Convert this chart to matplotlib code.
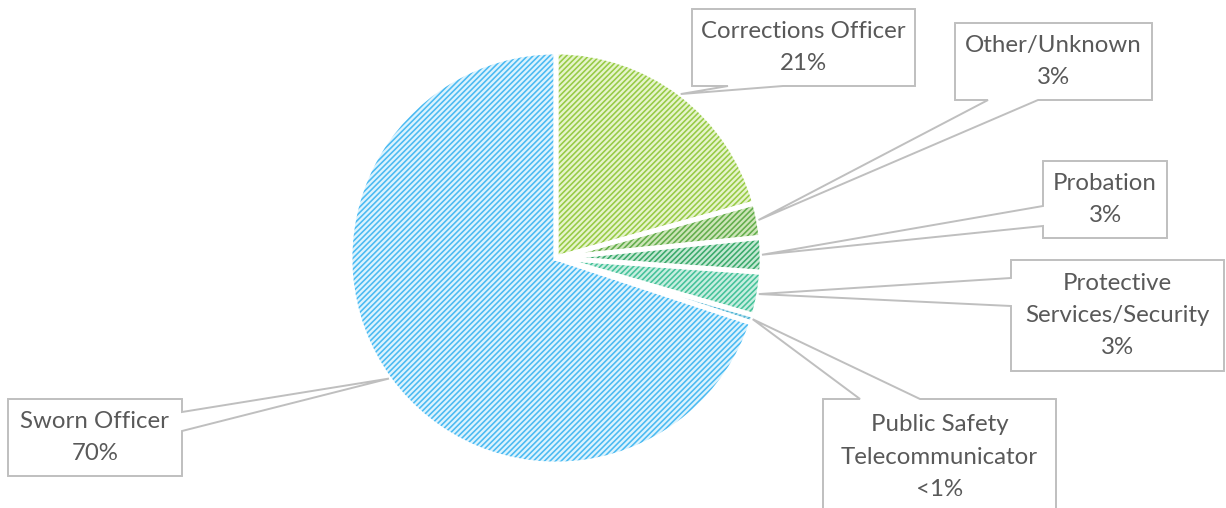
import numpy as np
import matplotlib
matplotlib.use('Agg')
import matplotlib.pyplot as plt
from matplotlib.patches import Polygon

W, H = 1226, 508

# slice data, clockwise from 12 o'clock
categories = ["Corrections Officer", "Other/Unknown", "Probation",
              "Protective\nServices/Security", "Public Safety\nTelecommunicator",
              "Sworn Officer"]
shares = [20.7, 2.7, 2.7, 3.4, 0.6, 69.9]

face_colors = ["#e6f4cc", "#cde5b8", "#c4e8d3", "#c8eee0", "#ade0ef", "#dcf3fd"]
hatch_colors = ["#96cb45", "#62ad4b", "#3aaa6b", "#45c299", "#52b2d2", "#4abaf2"]

# callout boxes in pixel coords (x0, y0, x1, y1), side the tail leaves from, tail base
callouts = [
    ((692, 9, 915, 86), "bottom", (728, 783)),
    ((955, 23, 1152, 100), "bottom", (988, 1038)),
    ((1043, 161, 1167, 238), "left", (206, 226)),
    ((1011, 260, 1224, 371), "left", (278, 306)),
    ((823, 399, 1056, 515), "top", (860, 920)),
    ((8, 399, 182, 476), "right", (412, 431)),
]

CX, CY, R = 556, 258, 206
TEXT_COLOR = "#595959"
BOX_COLOR = "#bfbfbf"

plt.rcParams['hatch.linewidth'] = 1.15


def pct_label(v):
    return "<1%" if v < 1 else f"{round(v)}%"


def callout_poly(box, side, base, tip):
    """Box outline with a wedge tail pointing at tip (pixel coords)."""
    x0, y0, x1, y1 = box
    a, b = base
    pts = [(x0, y0)]
    if side == "top":
        pts += [(a, y0), tip, (b, y0)]
    pts.append((x1, y0))
    if side == "right":
        pts += [(x1, a), tip, (x1, b)]
    pts.append((x1, y1))
    if side == "bottom":
        pts += [(b, y1), tip, (a, y1)]
    pts.append((x0, y1))
    if side == "left":
        pts += [(x0, b), tip, (x0, a)]
    return [(x, H - y) for x, y in pts]


fig = plt.figure(figsize=(W / 100, H / 100), dpi=100)
ax = fig.add_axes([0, 0, 1, 1])

wedges, _ = ax.pie(shares, colors=face_colors, startangle=90, counterclock=False,
                   center=(CX, H - CY), radius=R, wedgeprops=dict(linewidth=0))
for w, hc in zip(wedges, hatch_colors):
    w.set_hatch('//////')
    w.set_edgecolor(hc)
    w.set_linewidth(0)

# white gaps between slices
ax.pie(shares, colors=['none'] * len(shares), startangle=90, counterclock=False,
       center=(CX, H - CY), radius=R,
       wedgeprops=dict(edgecolor='white', linewidth=3.5, fill=False))

for w, cat, v, (box, side, base) in zip(wedges, categories, shares, callouts):
    theta = np.deg2rad((w.theta1 + w.theta2) / 2)
    tip = (CX + R * np.cos(theta), CY - R * np.sin(theta))
    ax.add_patch(Polygon(callout_poly(box, side, base, tip), closed=True,
                         facecolor='white', edgecolor=BOX_COLOR, linewidth=1.4,
                         zorder=3))
    x0, y0, x1, y1 = box
    ax.text((x0 + x1) / 2, H - (y0 + y1) / 2, f"{cat}\n{pct_label(v)}",
            ha='center', va='center', fontsize=17.3, color=TEXT_COLOR,
            family='Lato', linespacing=1.65, zorder=4)

ax.set_xlim(0, W)
ax.set_ylim(0, H)
ax.set_aspect('equal')
ax.axis('off')

fig.savefig('out.png', dpi=100)
